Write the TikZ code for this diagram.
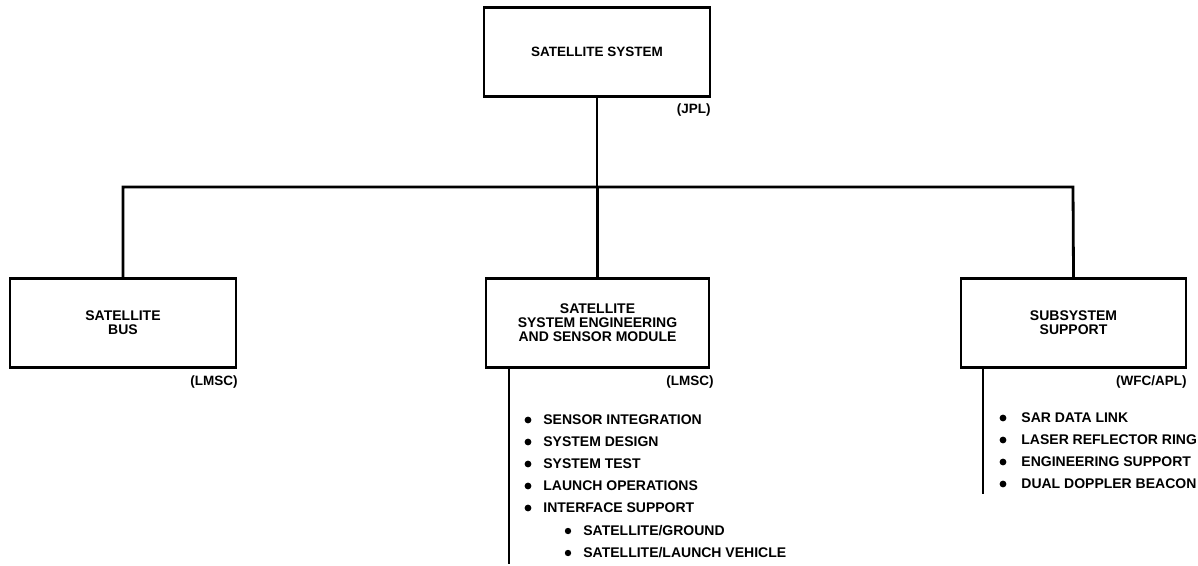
\documentclass[tikz,border=0pt]{standalone}
\usepackage{fontspec}
\setmainfont{Liberation Sans}
\usetikzlibrary{positioning}

\begin{document}
\begin{tikzpicture}[x=1pt, y=-1pt, line width=2.8pt,
    box/.style={draw, minimum width=226pt, minimum height=89pt, align=center, inner sep=0pt,
      font=\bfseries\fontsize{14}{14}\selectfont},
    org/.style={anchor=east, inner sep=0pt, font=\bfseries\fontsize{13.5}{14}\selectfont},
    item/.style={anchor=west, inner sep=0pt, font=\bfseries\fontsize{14}{14}\selectfont}]

    % --- Rahmen ---
    \useasboundingbox (0,0) rectangle (1198,565);

    % --- Kästen ---
    \node[box, font=\bfseries\fontsize{13.5}{14}\selectfont] (sys) at (597,52) {SATELLITE SYSTEM};
    \node[box] (bus) at (123,323) {SATELLITE\\BUS};
    \node[box, minimum width=223pt] (mod) at (597.5,323) {SATELLITE\\SYSTEM ENGINEERING\\AND SENSOR MODULE};
    \node[box, minimum width=225pt] (sub) at (1073.5,323) {SUBSYSTEM\\SUPPORT};

    % --- Zuständigkeiten ---
    \node[org] (jpl) at (712,110) {(JPL)};
    \node[org] (lmscbus) at (239,382) {(LMSC)};
    \node[org] (lmscmod) at (715,382) {(LMSC)};
    \node[org] (wfc) at (1188,382) {(WFC/APL)};

    % --- Verbindungen ---
    \coordinate (barl) at (123,187);
    \coordinate (barr) at (1073,187);
    \draw (sys.south) -- (sys.south |- barl);
    \draw (bus.north) -- (barl) -- (barr) -- (sub.north);
    \draw (mod.north) -- (mod.north |- barl);

    % Seitenlinien unter den Kästen
    \coordinate (modend) at (509,564);
    \coordinate (subend) at (983,494);
    \draw (mod.south -| modend) -- (modend);
    \draw (sub.south -| subend) -- (subend);

    % --- Aufgaben Sensormodul ---
    \foreach \y in {420,442,464,486,508} \fill (528,\y) circle (3.4pt);
    \node[item] (integ) at (542,420) {SENSOR INTEGRATION};
    \node[item] (design) at (542,442) {SYSTEM DESIGN};
    \node[item] (test) at (542,464) {SYSTEM TEST};
    \node[item] (launch) at (542,486) {LAUNCH OPERATIONS};
    \node[item] (iface) at (542,508) {INTERFACE SUPPORT};
    % Unterpunkte
    \foreach \y in {531,553} \fill (568,\y) circle (3.2pt);
    \node[item] (ground) at (582,531) {SATELLITE/GROUND};
    \node[item] (vehicle) at (582,553) {SATELLITE/LAUNCH VEHICLE};

    % --- Aufgaben Subsystem ---
    \foreach \y in {418,440,462,484} \fill (1003,\y) circle (3.4pt);
    \node[item] (sar) at (1020,418) {SAR DATA LINK};
    \node[item] (laser) at (1020,440) {LASER REFLECTOR RING};
    \node[item] (eng) at (1020,462) {ENGINEERING SUPPORT};
    \node[item] (doppler) at (1020,484) {DUAL DOPPLER BEACON};

\end{tikzpicture}
\end{document}
